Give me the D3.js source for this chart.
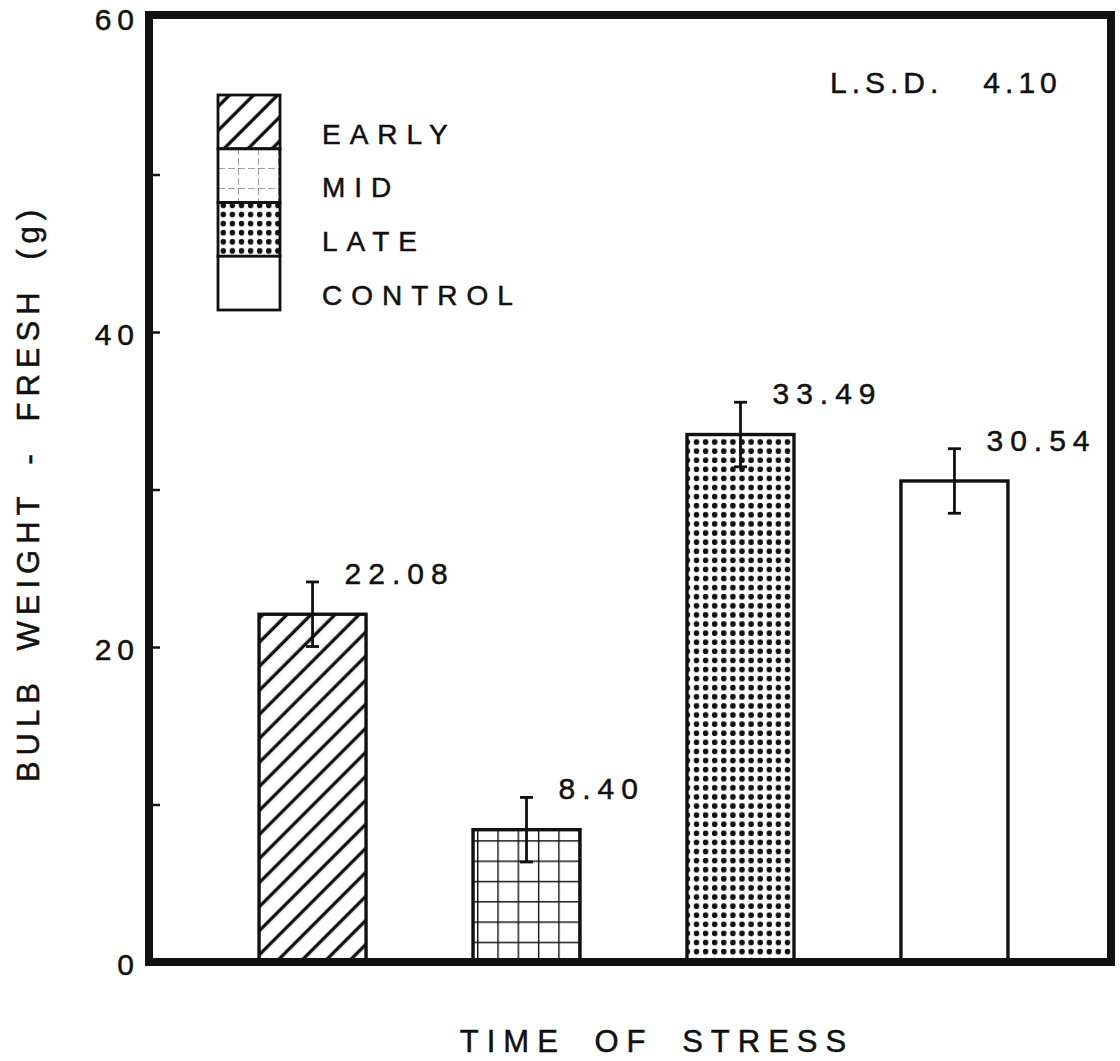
<!DOCTYPE html>
<html>
<head>
<meta charset="utf-8">
<script src="https://cdnjs.cloudflare.com/ajax/libs/d3/7.8.5/d3.min.js"></script>
<style>
  body { margin: 0; background: #fff; }
  svg text { font-family: "Liberation Sans", Arial, Helvetica, sans-serif; fill: #111; stroke: #111; stroke-width: 0.5px; white-space: pre; }
</style>
</head>
<body>
<div id="chart"></div>
<script>
// data
var categories = ["EARLY", "MID", "LATE", "CONTROL"];
var values = [22.08, 8.40, 33.49, 30.54];
var errHalf = [2.05, 2.05, 2.05, 2.05];
var valueLabels = ["22.08", "8.40", "33.49", "30.54"];
var yTicks = [0, 10, 20, 30, 40, 50, 60];
var yTickLabels = [0, 20, 40, 60];
var lsdText = "L.S.D.   4.10";

var W = 1120, H = 1061;
var frameL = 149, frameR = 1111, frameT = 17, frameB = 962;

var svg = d3.select("#chart").append("svg")
	.attr("width", W)
	.attr("height", H);

var defs = svg.append("defs");

var x = d3.scaleBand()
	.domain(categories)
	.range([frameL + 2, frameR + 5])
	.paddingInner(0.5)
	.paddingOuter(0.505);

var y = d3.scaleLinear()
	.domain([0, 60])
	.range([frameB, frameT]);

// patterns
var hatch = defs.append("pattern")
	.attr("id", "hatch")
	.attr("patternUnits", "userSpaceOnUse")
	.attr("width", 17)
	.attr("height", 17)
	.attr("patternTransform", "rotate(-45)");
hatch.append("line")
	.attr("x1", -2).attr("x2", 19)
	.attr("y1", 8.5).attr("y2", 8.5)
	.attr("stroke", "#111")
	.attr("stroke-width", 3.4);

var grid = defs.append("pattern")
	.attr("id", "grid")
	.attr("patternUnits", "userSpaceOnUse")
	.attr("x", x("MID") + 4)
	.attr("y", y(0))
	.attr("width", 20.3)
	.attr("height", 20.3);
grid.append("path")
	.attr("d", "M0.5,0V20.3M0,0.5H20.3")
	.attr("stroke", "#111")
	.attr("stroke-width", 1.8)
	.attr("fill", "none");

var dots = defs.append("pattern")
	.attr("id", "dots")
	.attr("patternUnits", "userSpaceOnUse")
	.attr("x", x("LATE") + 5)
	.attr("y", y(values[2]) + 3)
	.attr("width", 9.1)
	.attr("height", 9.1);
dots.append("circle")
	.attr("cx", 4.5).attr("cy", 4.5).attr("r", 2.8)
	.attr("fill", "#111");

var gridLight = defs.append("pattern")
	.attr("id", "gridLight")
	.attr("patternUnits", "userSpaceOnUse")
	.attr("x", 218)
	.attr("y", 148)
	.attr("width", 20)
	.attr("height", 20);
gridLight.append("path")
	.attr("d", "M0,0V20M0,0H20")
	.attr("stroke", "#444")
	.attr("stroke-width", 1)
	.attr("stroke-dasharray", "7,3")
	.attr("fill", "none");

var fills = {
	EARLY: "url(#hatch)",
	MID: "url(#grid)",
	LATE: "url(#dots)",
	CONTROL: "#fff"
};

var rows = categories.map(function (c, i) {
	return { cat: c, v: values[i], e: errHalf[i], label: valueLabels[i] };
});

// bars
svg.append("g")
	.selectAll("rect")
	.data(rows)
	.enter().append("rect")
	.attr("x", function (d) { return x(d.cat); })
	.attr("y", function (d) { return y(d.v); })
	.attr("width", x.bandwidth())
	.attr("height", function (d) { return y(0) - y(d.v); })
	.attr("fill", function (d) { return fills[d.cat]; })
	.attr("stroke", "#111")
	.attr("stroke-width", 3.4);

// error bars
var eb = svg.append("g")
	.selectAll("g")
	.data(rows)
	.enter().append("g")
	.attr("transform", function (d) {
		return "translate(" + (x(d.cat) + x.bandwidth() / 2) + ",0)";
	});
eb.append("line")
	.attr("y1", function (d) { return y(d.v - d.e); })
	.attr("y2", function (d) { return y(d.v + d.e); })
	.attr("stroke", "#111")
	.attr("stroke-width", 2.8);
eb.append("line")
	.attr("x1", -6.5).attr("x2", 6.5)
	.attr("y1", function (d) { return y(d.v + d.e); })
	.attr("y2", function (d) { return y(d.v + d.e); })
	.attr("stroke", "#111")
	.attr("stroke-width", 2.8);
eb.append("line")
	.attr("x1", -6.5).attr("x2", 6.5)
	.attr("y1", function (d) { return y(d.v - d.e); })
	.attr("y2", function (d) { return y(d.v - d.e); })
	.attr("stroke", "#111")
	.attr("stroke-width", 2.8);

// value labels
eb.append("text")
	.attr("x", 32)
	.attr("y", function (d) { return y(d.v + d.e) + 2; })
	.attr("font-size", 30)
	.attr("letter-spacing", 7)
	.text(function (d) { return d.label; });

// y axis ticks (inside)
var yAxis = svg.append("g")
	.attr("transform", "translate(" + frameL + ",0)")
	.call(d3.axisLeft(y)
		.tickValues(yTicks)
		.tickSize(-11)
		.tickPadding(9)
		.tickFormat(function (d) { return yTickLabels.indexOf(d) >= 0 ? d : ""; }));
yAxis.select(".domain").remove();
yAxis.selectAll(".tick line")
	.attr("x1", 0)
	.attr("x2", 11)
	.attr("stroke", "#111")
	.attr("stroke-width", 2.5);
yAxis.selectAll(".tick text")
	.attr("font-size", 30)
	.attr("letter-spacing", 6)
	.attr("dy", "0.42em")
	.attr("fill", "#111");

// frame
svg.append("rect")
	.attr("x", frameL)
	.attr("y", frameT - 2)
	.attr("width", frameR - frameL)
	.attr("height", frameB - frameT + 2)
	.attr("fill", "none")
	.attr("stroke", "#111")
	.attr("stroke-width", 8);

// axis titles
svg.append("text")
	.attr("transform", "translate(39,493) rotate(-90)")
	.attr("text-anchor", "middle")
	.attr("font-size", 31)
	.attr("letter-spacing", 6)
	.attr("word-spacing", 12)
	.text("BULB WEIGHT - FRESH (g)");

svg.append("text")
	.attr("x", 657)
	.attr("y", 1052)
	.attr("text-anchor", "middle")
	.attr("font-size", 31)
	.attr("letter-spacing", 8)
	.attr("word-spacing", 12)
	.text("TIME OF STRESS");

// LSD note
svg.append("text")
	.attr("x", 830)
	.attr("y", 93)
	.attr("font-size", 30)
	.attr("letter-spacing", 5)
	.text(lsdText);

// legend
var legendFills = {
	EARLY: "url(#hatch)",
	MID: "url(#gridLight)",
	LATE: "url(#dots)",
	CONTROL: "#fff"
};
var lg = svg.append("g");
var lgY = d3.scaleBand().domain(categories).range([95, 310]);
lg.selectAll("rect")
	.data(categories)
	.enter().append("rect")
	.attr("x", 218)
	.attr("y", function (d) { return lgY(d); })
	.attr("width", 62)
	.attr("height", lgY.bandwidth())
	.attr("fill", function (d) { return legendFills[d]; })
	.attr("stroke", "#111")
	.attr("stroke-width", 2.8);
lg.selectAll("text")
	.data(categories)
	.enter().append("text")
	.attr("x", 322)
	.attr("y", function (d) { return lgY(d) + lgY.bandwidth() / 2 + 12; })
	.attr("dy", "0.35em")
	.attr("font-size", 28)
	.attr("letter-spacing", 9)
	.text(function (d) { return d; });
</script>
</body>
</html>
